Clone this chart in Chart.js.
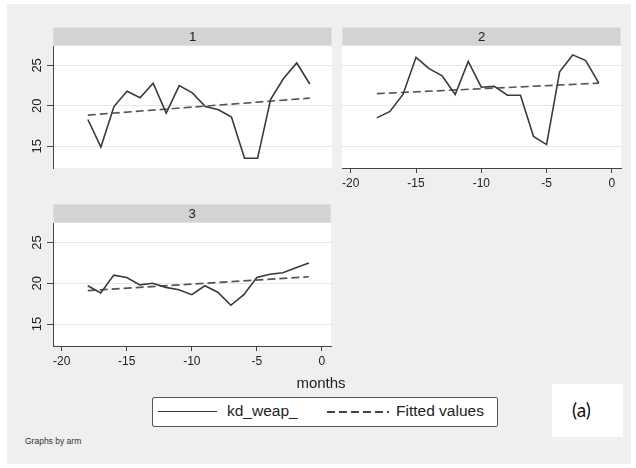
<!DOCTYPE html>
<html><head><meta charset="utf-8">
<script src="https://cdn.jsdelivr.net/npm/chart.js@4/dist/chart.umd.min.js"></script>
<style>
html,body{margin:0;padding:0;background:#fff;}
#wrap{position:relative;width:636px;height:468px;overflow:hidden;font-family:"Liberation Sans",Arial,sans-serif;color:#222;}
#bg{position:absolute;left:7px;top:4px;width:624px;height:460px;background:#efefef;}
.hdr{position:absolute;height:19px;background:#d3d3d3;border:1px solid #dbe3e9;box-sizing:border-box;text-align:center;font-size:13px;line-height:17px;color:#222;}
canvas{position:absolute;}
.txt{position:absolute;white-space:nowrap;}
</style></head>
<body><div id="wrap">
<div id="bg"></div>
<div class="hdr" style="left:53px;top:27px;width:279px;">1</div>
<div class="hdr" style="left:342px;top:27px;width:279px;">2</div>
<div class="hdr" style="left:53px;top:204px;width:278px;">3</div>
<canvas id="c1" width="324" height="126" style="left:10px;top:44px;"></canvas>
<canvas id="c2" width="301" height="154" style="left:330px;top:44px;"></canvas>
<canvas id="c3" width="333" height="155" style="left:10px;top:221px;"></canvas>
<div class="txt" style="left:271px;top:374px;width:100px;text-align:center;font-size:15px;line-height:18px;">months</div>
<div style="position:absolute;left:152px;top:397px;width:346px;height:30px;box-sizing:border-box;border:1px solid #555;background:#fff;border-radius:2px;"></div>
<div style="position:absolute;left:158px;top:411px;width:59px;height:0;border-top:1.5px solid #333;"></div>
<div class="txt" style="left:227px;top:402px;font-size:15.5px;line-height:18px;">kd_weap_</div>
<div style="position:absolute;left:327px;top:411px;width:62px;height:1.5px;background:repeating-linear-gradient(to right,#444 0 8px,transparent 8px 12px);"></div>
<div class="txt" style="left:396px;top:402px;font-size:15.5px;line-height:18px;">Fitted values</div>
<div style="position:absolute;left:552px;top:384px;width:71px;height:53px;background:#fff;"></div>
<div class="txt" style="left:572px;top:399px;font-family:Lato,'Open Sans',sans-serif;font-size:19px;line-height:22px;color:#111;">(a)</div>
<div class="txt" style="left:25px;top:436px;font-size:8.5px;line-height:11px;color:#333;">Graphs by arm</div>
</div>
<script>
const months = [-18,-17,-16,-15,-14,-13,-12,-11,-10,-9,-8,-7,-6,-5,-4,-3,-2,-1];
const arm1 = [18.3,14.9,19.9,21.8,21.0,22.8,19.1,22.5,21.6,19.9,19.5,18.6,13.5,13.5,20.8,23.4,25.3,22.7];
const arm2 = [18.5,19.3,21.4,26.0,24.6,23.7,21.4,25.5,22.3,22.4,21.3,21.3,16.2,15.2,24.2,26.3,25.6,22.8];
const arm3 = [19.7,18.8,21.0,20.7,19.8,20.0,19.5,19.2,18.6,19.7,18.9,17.3,18.6,20.7,21.1,21.3,21.9,22.5];
const fitMonths = [-18,-1];
const fit1 = [18.85,20.95];
const fit2 = [21.5,22.8];
const fit3 = [19.1,20.8];
const xTicks = [-20,-15,-10,-5,0];
const yTicks = [15,20,25];
const seriesNames = ['kd_weap_','Fitted values'];

const plotBg = {id:'plotBg', beforeDraw(chart){const {ctx, chartArea:a}=chart; ctx.save(); ctx.fillStyle='#fff'; ctx.fillRect(a.left,a.top,a.right-a.left,a.bottom-a.top); ctx.restore();}};
const FONT = {family:"'Liberation Sans', Arial, sans-serif", size:12};

function make(id, vals, fit, opt){
  const cfg = {
    type:'line',
    data:{datasets:[
      {label:seriesNames[0], data:months.map((m,i)=>({x:m,y:vals[i]})), borderColor:'#3a3a3a', borderWidth:1.6, pointRadius:0, tension:0, fill:false, clip:false},
      {label:seriesNames[1], data:fitMonths.map((m,i)=>({x:m,y:fit[i]})), borderColor:'#555', borderWidth:1.6, borderDash:[8,4], pointRadius:0, tension:0, fill:false, clip:false}
    ]},
    options:{
      responsive:false, animation:false, devicePixelRatio:1,
      layout:{padding:opt.padding},
      plugins:{legend:{display:false}, tooltip:{enabled:false}, title:{display:false}},
      scales:{
        x:{type:'linear', min:-20.67, max:0.7, display:opt.showX,
           afterBuildTicks:s=>{s.ticks=xTicks.map(v=>({value:v}));},
           afterFit:s=>{s.height=opt.showX?30:0; s.paddingLeft=0; s.paddingRight=0;},
           border:{display:true,color:'#444',width:1},
           grid:{drawOnChartArea:false, drawTicks:true, tickLength:5, tickColor:'#444', tickWidth:1},
           ticks:{font:FONT, color:'#222', padding:3, maxRotation:0, minRotation:0, autoSkip:false}},
        y:{type:'linear', min:12.3, max:27.4, display:true,
           afterBuildTicks:s=>{s.ticks=yTicks.map(v=>({value:v}));},
           afterFit:s=>{s.width=opt.showY?43:0; s.paddingTop=0; s.paddingBottom=0;},
           border:{display:opt.showY,color:'#444',width:1},
           grid:{color:'#e6e6e6', lineWidth:1, drawTicks:opt.showY, tickLength:6, tickColor:'#444', tickWidth:1},
           ticks:{display:opt.showY, font:{family:FONT.family,size:13}, color:'#222', padding:2, minRotation:90, maxRotation:90, crossAlign:'center', autoSkip:false}}
      }
    },
    plugins:[plotBg]
  };
  return new Chart(document.getElementById(id), cfg);
}
make('c1', arm1, fit1, {padding:{left:0,top:2,right:2,bottom:2}, showX:false, showY:true});
make('c2', arm2, fit2, {padding:{left:12,top:2,right:10,bottom:0}, showX:true, showY:false});
make('c3', arm3, fit3, {padding:{left:0,top:2,right:12,bottom:0}, showX:true, showY:true});
</script>
</body></html>
